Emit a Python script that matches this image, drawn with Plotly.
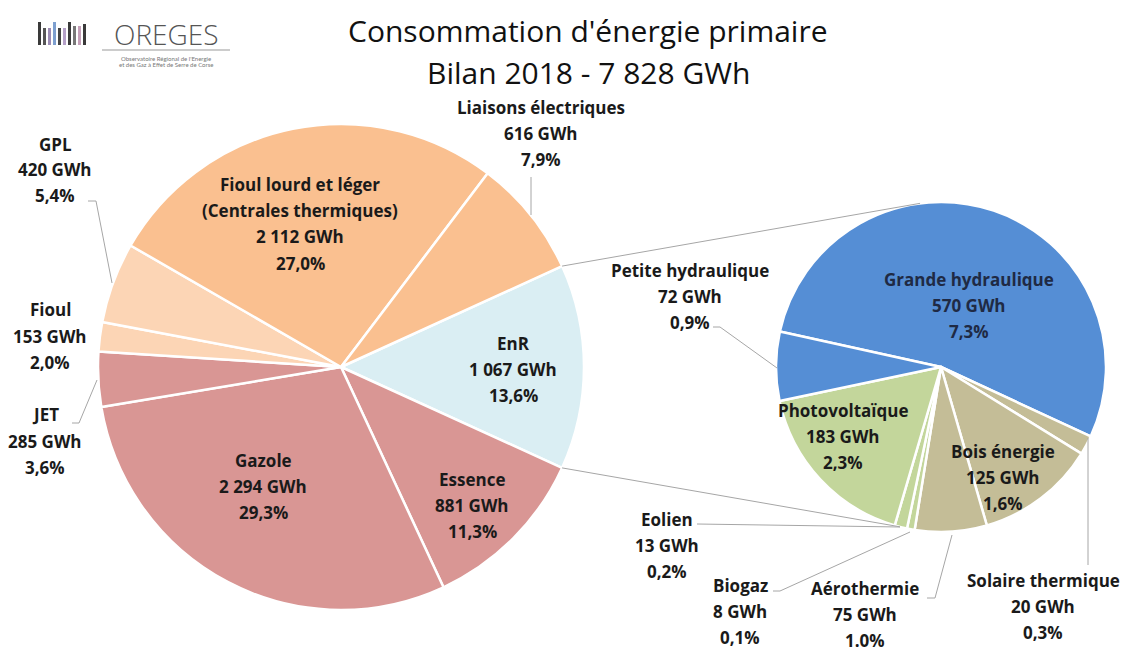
import math
import plotly.graph_objects as go

W, H = 1123, 653

# --- data -------------------------------------------------------------
main_labels = ["EnR", "Essence", "Gazole", "JET", "Fioul", "GPL",
               "Fioul lourd et léger<br>(Centrales thermiques)", "Liaisons électriques"]
main_values = [1067, 881, 2294, 285, 153, 420, 2112, 616]
main_pcts = ["13,6%", "11,3%", "29,3%", "3,6%", "2,0%", "5,4%", "27,0%", "7,9%"]
main_colors = ["#DAEEF3", "#D99694", "#D99694", "#D99694", "#FCD5B5", "#FCD5B5", "#FAC090", "#FAC090"]

enr_labels = ["Grande hydraulique", "Solaire thermique", "Bois énergie", "Aérothermie",
              "Biogaz", "Eolien", "Photovoltaïque", "Petite hydraulique"]
enr_values = [570, 20, 125, 75, 8, 13, 183, 72]
enr_pcts = ["7,3%", "0,3%", "1,6%", "1.0%", "0,1%", "0,2%", "2,3%", "0,9%"]
enr_colors = ["#558ED5", "#C4BD97", "#C4BD97", "#C4BD97", "#C3D69B", "#C3D69B", "#C3D69B", "#558ED5"]

total = sum(main_values)

LABEL_FONT = "Open Sans"


def px(x):
    return x / W


def py(y):
    return 1 - y / H


def gwh(v):
    return f"{v:,}".replace(",", " ") + " GWh"


# pie geometry (pixels)
big_c, big_r = (341, 367), 243
small_c, small_r = (941, 367), 165
big_rot = 90 - main_values[0] / total * 180
small_rot = -77.6

fig = go.Figure()
fig.add_trace(go.Pie(
    labels=[l.replace("<br>", " ") for l in main_labels], values=main_values,
    sort=False, direction="clockwise", rotation=big_rot,
    marker=dict(colors=main_colors, line=dict(color="white", width=2.5)),
    textinfo="none", hoverinfo="label+value+percent",
    domain=dict(x=[px(big_c[0] - big_r), px(big_c[0] + big_r)],
                y=[py(big_c[1] + big_r), py(big_c[1] - big_r)]),
))
fig.add_trace(go.Pie(
    labels=enr_labels, values=enr_values,
    sort=False, direction="clockwise", rotation=small_rot,
    marker=dict(colors=enr_colors, line=dict(color="white", width=2.5)),
    textinfo="none", hoverinfo="label+value",
    domain=dict(x=[px(small_c[0] - small_r), px(small_c[0] + small_r)],
                y=[py(small_c[1] + small_r), py(small_c[1] - small_r)]),
))

annotations = []


def add_text(txt, x, y, size, color="#1a1a1a", family=LABEL_FONT, weight=None):
    font = dict(family=family, size=size, color=color)
    if weight:
        font["weight"] = weight
    annotations.append(dict(
        x=px(x), y=py(y), xref="paper", yref="paper", showarrow=False,
        text=txt, xanchor="center", yanchor="middle", font=font))


def add_label(lines, x, y, color="#1a1a1a", size=17, step=26):
    n = len(lines)
    for i, txt in enumerate(lines):
        add_text(f"<b>{txt}</b>", x, y + (i - (n - 1) / 2) * step, size, color)


# label positions (pixels, centre of text block)
main_pos = [(513, 369), (472, 505), (263, 486), (45, 441), (50, 336),
            (55, 170), (300, 224), (541, 133)]
enr_pos = [(969, 305), (1043, 606), (1003, 477), (865, 614),
           (740, 611), (667, 545), (843, 436), (690, 296)]

for lab, v, p, (x, y) in zip(main_labels, main_values, main_pcts, main_pos):
    add_label(lab.split("<br>") + [gwh(v), p], x, y)
for lab, v, p, (x, y) in zip(enr_labels, enr_values, enr_pcts, enr_pos):
    add_label([lab, gwh(v), p], x, y, color="#1F2A44" if lab == "Grande hydraulique" else "#1a1a1a")

# title
add_text("Consommation d'énergie primaire", 588, 30, 30, "#111")
add_text("Bilan 2018 - 7 828 GWh", 588, 72, 30, "#111")

# logo text
add_text("OREGES", 166, 34, 28, "#555", "Open Sans", 300)
add_text("Observatoire Régional de l'Energie", 166, 58, 6, "#777", "Lato")
add_text("et des Gaz à Effet de Serre de Corse", 166, 65, 6, "#777", "Lato")

shapes = []


def polyline(pts, color="#A6A6A6", width=1):
    d = "M " + " L ".join(f"{px(x)} {py(y)}" for x, y in pts)
    shapes.append(dict(type="path", path=d, xref="paper", yref="paper",
                       line=dict(color=color, width=width)))


def on_circle(c, r, deg):
    a = math.radians(deg)
    return (c[0] + r * math.sin(a), c[1] - r * math.cos(a))


# connector lines between the EnR slice and the secondary pie
enr_span = main_values[0] / total * 360
polyline([on_circle(big_c, big_r, big_rot), on_circle(small_c, small_r, -7.3)])
polyline([on_circle(big_c, big_r, big_rot + enr_span), on_circle(small_c, small_r, 194.4)])

# leader lines
polyline([(531, 177), (531, 215)])
polyline([(88, 201), (96, 201), (112, 283)])
polyline([(72, 423), (79, 423), (97, 380)])
polyline([(713, 327), (720, 327), (777, 368)])
polyline([(697, 524), (900, 527)])
polyline([(773, 591), (780, 591), (910, 532)])
polyline([(927, 598), (935, 598), (952, 535)])
polyline([(1088, 438), (1088, 565)])

# logo line and bars
polyline([(102, 50), (230, 50)], color="#999", width=1)
logo_bar_colors = ["#3a3a3a", "#555", "#9b8bb4", "#7d9fcf", "#444", "#b5a0c8",
                   "#3a3a3a", "#777", "#c49fb8", "#3a3a3a"]
logo_bar_tops = [22, 28, 28, 22, 28, 28, 22, 26, 26, 24]
for i, (col, top) in enumerate(zip(logo_bar_colors, logo_bar_tops)):
    x0 = 38 + i * 5
    shapes.append(dict(type="rect", xref="paper", yref="paper",
                       x0=px(x0), x1=px(x0 + 3), y0=py(45), y1=py(top),
                       fillcolor=col, line=dict(width=0)))

fig.update_layout(
    width=W, height=H,
    margin=dict(l=0, r=0, t=0, b=0),
    paper_bgcolor="white", plot_bgcolor="white",
    showlegend=False,
    annotations=annotations,
    shapes=shapes,
)

fig.write_html("out.html", config={"displayModeBar": False},
               post_script="document.body.style.margin='0';")
